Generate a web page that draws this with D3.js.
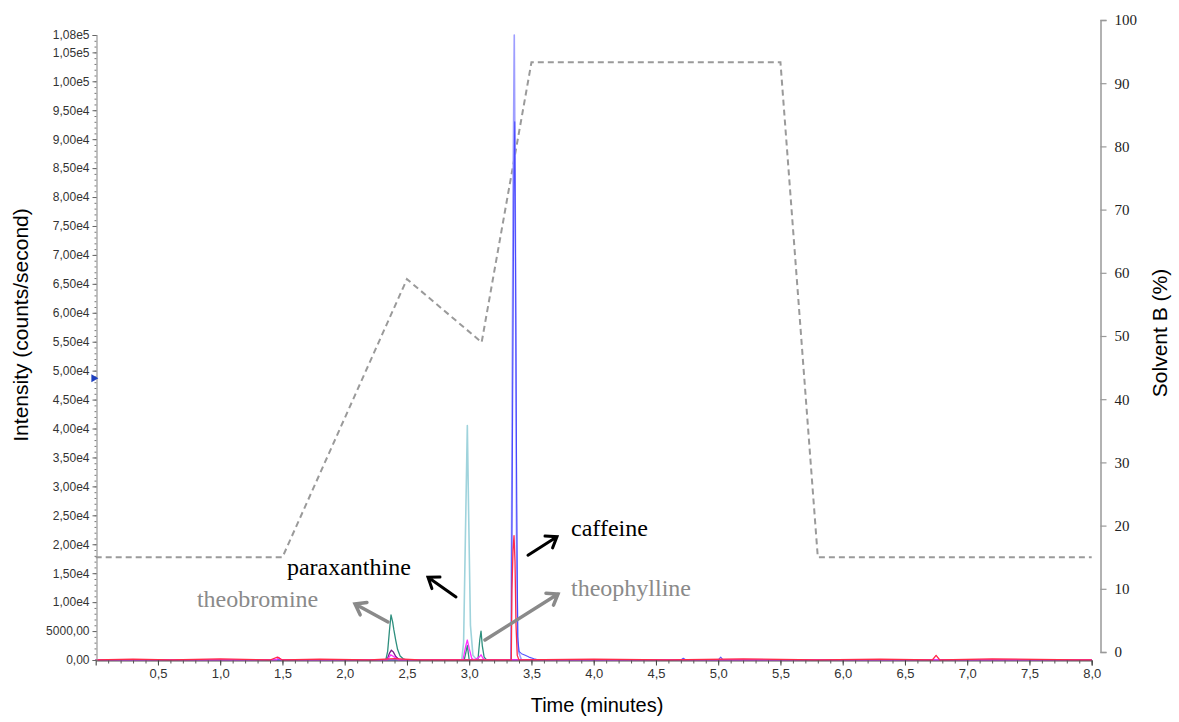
<!DOCTYPE html>
<html>
<head>
<meta charset="utf-8">
<script src="https://cdn.jsdelivr.net/npm/d3@7"></script>
<style>
  html, body { margin: 0; padding: 0; background: #fff; }
  svg { display: block; }
</style>
</head>
<body>
<svg id="chart" width="1179" height="722"></svg>
<script>
// ---------------- DATA ----------------
// Left axis (intensity) ticks
const leftTickValues = [0, 5000, 10000, 15000, 20000, 25000, 30000, 35000, 40000, 45000, 50000,
  55000, 60000, 65000, 70000, 75000, 80000, 85000, 90000, 95000, 100000, 105000, 108000];
const leftTickLabels = ["0,00", "5000,00", "1,00e4", "1,50e4", "2,00e4", "2,50e4", "3,00e4", "3,50e4",
  "4,00e4", "4,50e4", "5,00e4", "5,50e4", "6,00e4", "6,50e4", "7,00e4", "7,50e4", "8,00e4", "8,50e4",
  "9,00e4", "9,50e4", "1,00e5", "1,05e5", "1,08e5"];
// Bottom axis (time) ticks
const timeTickValues = [0.5, 1.0, 1.5, 2.0, 2.5, 3.0, 3.5, 4.0, 4.5, 5.0, 5.5, 6.0, 6.5, 7.0, 7.5, 8.0];
const timeTickLabels = ["0,5", "1,0", "1,5", "2,0", "2,5", "3,0", "3,5", "4,0", "4,5", "5,0", "5,5", "6,0", "6,5", "7,0", "7,5", "8,0"];
// Right axis (solvent B %) ticks
const solventTickValues = [0, 10, 20, 30, 40, 50, 60, 70, 80, 90, 100];

// Gradient profile (Solvent B %)
const gradientTime = [0, 1.5, 2.5, 3.1, 3.5, 5.5, 5.8, 8.0];
const gradientPct  = [15, 15, 59, 49, 93.3, 93.3, 15, 15];

// Chromatogram traces: [time (min), intensity (counts/s)]
const lightCyanTrace = [[0,0],[2.94,0],[2.955,3000],[2.97,22000],[2.985,40500],[2.995,26000],[3.01,6000],[3.03,800],[3.06,0],[8,0]];
const tealTrace = [[0,0],[2.33,0],[2.345,1500],[2.36,5200],[2.372,7800],[2.385,6600],[2.395,5200],[2.41,3400],[2.425,1800],[2.445,700],[2.47,200],[2.5,0],
  [2.96,0],[2.985,2500],[3.0,0],[3.07,0],[3.085,3500],[3.095,5000],[3.105,2500],[3.12,500],[3.14,0],[8,0]];
const purpleTrace = [[0,0],[2.34,0],[2.36,1200],[2.375,1700],[2.39,1400],[2.41,600],[2.44,0],[8,0]];
const magentaTrace = [[0,0],[1.45,0],[1.47,450],[1.49,0],[2.34,0],[2.37,900],[2.4,500],[2.43,0],
  [2.95,0],[2.97,2200],[2.985,3450],[3.0,2000],[3.02,300],[3.04,0],[3.08,500],[3.095,900],[3.11,300],[3.13,0],[8,0]];
const lightBlueTrace = [[0,0],[3.335,0],[3.342,30000],[3.352,80000],[3.362,108000],[3.372,70000],[3.38,20000],[3.39,3000],[3.4,1200],[3.42,0],[8,0]];
const blueTrace = [[0,0],[3.338,0],[3.348,40000],[3.358,80000],[3.366,93000],[3.374,60000],[3.382,27000],[3.39,4000],[3.40,1500],
  [3.42,1100],[3.45,800],[3.48,500],[3.52,200],[3.56,0],[4.7,0],[4.72,300],[4.74,0],[5.0,0],[5.02,500],[5.04,0],[8,0]];
const redTrace = [[0,0],[0.3,150],[0.6,0],[1.0,200],[1.4,0],[1.46,500],[1.5,0],[1.8,150],[2.2,0],[2.4,250],[2.6,0],
  [3.338,0],[3.343,12000],[3.352,19000],[3.36,21500],[3.368,17000],[3.376,6000],[3.386,800],[3.4,0],
  [4.0,150],[4.6,0],[5.2,200],[5.8,0],[6.3,150],[6.72,0],[6.75,800],[6.78,0],[7.2,200],[7.9,0],[8,0]];

// Annotations: label, colour, text anchor point and arrow (time, intensity)
const annotLabels = ["paraxanthine", "theobromine", "caffeine", "theophylline"];
const annotColors = ["#000000", "#8a8a8a", "#000000", "#8a8a8a"];
const annotTextPos = [[1.536, 14700], [0.813, 9160], [3.818, 21400], [3.818, 11060]];
const annotArrowFrom = [[2.894, 10900], [2.348, 6570], [3.472, 18100], [3.127, 3460]];
const annotArrowTo = [[2.669, 14300], [2.083, 9680], [3.705, 21300], [3.713, 11400]];

// ---------------- CHART ----------------
const svg = d3.select("#chart");
const x = d3.scaleLinear().domain([0, 8]).range([95.7, 1091.7]);
const yL = d3.scaleLinear().domain([0, 108000]).range([660, 35]);
const yR = d3.scaleLinear().domain([0, 100]).range([652, 20]);

const narrow = "'Liberation Sans Narrow', 'Liberation Sans', Arial, sans-serif";
const sans = "'Liberation Sans', Arial, sans-serif";
const serif = "'Liberation Serif', 'Times New Roman', serif";

// Gradient dashed line
const gLine = d3.line().x((d) => x(d[0])).y((d) => yR(d[1]));
svg.append("path")
  .datum(gradientTime.map((t, i) => [t, gradientPct[i]]))
  .attr("d", gLine)
  .attr("fill", "none")
  .attr("stroke", "#9a9a9a")
  .attr("stroke-width", 2)
  .attr("stroke-dasharray", "6,4");

// Chromatogram traces
const cLine = d3.line().x((d) => x(d[0])).y((d) => yL(d[1]));
const traces = [
  { data: lightCyanTrace, color: "#9fd3dc", w: 1.6, op: 1 },
  { data: tealTrace, color: "#2e8f7e", w: 1.3, op: 1 },
  { data: purpleTrace, color: "#7a1a8a", w: 1.3, op: 1 },
  { data: lightBlueTrace, color: "#9e9eff", w: 1.6, op: 1 },
  { data: blueTrace, color: "#3a3aff", w: 1.1, op: 0.85 },
  { data: magentaTrace, color: "#ff30ff", w: 1.3, op: 1 },
  { data: redTrace, color: "#ff2a4a", w: 1.3, op: 1 }
];
traces.forEach((tr) => {
  svg.append("path")
    .datum(tr.data)
    .attr("d", cLine)
    .attr("fill", "none")
    .attr("stroke", tr.color)
    .attr("stroke-width", tr.w)
    .attr("stroke-opacity", tr.op)
    .attr("stroke-linejoin", "round");
});

// Left axis: minor ticks
const leftMinor = svg.append("g").attr("transform", "translate(96.5,0)")
  .call(d3.axisLeft(yL).tickValues(d3.range(0, 108001, 1000)).tickSize(2).tickFormat(""));
leftMinor.select(".domain").remove();
leftMinor.selectAll("line").attr("stroke", "#777");
// Left axis: major ticks
const leftAx = svg.append("g").attr("transform", "translate(96.5,0)")
  .call(d3.axisLeft(yL).tickValues(leftTickValues).tickSize(4).tickPadding(3)
    .tickFormat((d, i) => leftTickLabels[i]));
leftAx.select(".domain").attr("stroke", "#999").attr("stroke-width", 1.2);
leftAx.selectAll("line").attr("stroke", "#666");
leftAx.selectAll("text").attr("font-family", narrow).attr("font-size", 12).attr("fill", "#333");

// Bottom axis: minor
const botMinor = svg.append("g").attr("transform", "translate(0,660.5)")
  .call(d3.axisBottom(x).tickValues(d3.range(1, 81).map((d) => d / 10)).tickSize(3).tickFormat(""));
botMinor.select(".domain").remove();
botMinor.selectAll("line").attr("stroke", "#555");
const botAx = svg.append("g").attr("transform", "translate(0,660.5)")
  .call(d3.axisBottom(x).tickValues(timeTickValues).tickSize(5).tickPadding(3)
    .tickFormat((d, i) => timeTickLabels[i]));
botAx.select(".domain").attr("stroke", "#555").attr("stroke-width", 1.2);
botAx.selectAll("line").attr("stroke", "#444");
botAx.selectAll("text").attr("font-family", narrow).attr("font-size", 13).attr("fill", "#333");

// Right axis
const rightAx = svg.append("g").attr("transform", "translate(1100.5,0)")
  .call(d3.axisRight(yR).tickValues(solventTickValues).tickSize(6).tickPadding(8));
rightAx.select(".domain").attr("stroke", "#999").attr("stroke-width", 1.5);
rightAx.selectAll("line").attr("stroke", "#999").attr("stroke-width", 1.2);
rightAx.selectAll("text").attr("font-family", serif).attr("font-size", 15).attr("fill", "#222");

// Small blue marker on left axis
svg.append("path")
  .attr("d", d3.symbol().type(d3.symbolTriangle).size(28)())
  .attr("transform", `translate(${x(0) - 2},${yL(48700)}) rotate(90)`)
  .attr("fill", "#1e3fbf");

// Axis titles
svg.append("text")
  .attr("transform", "translate(28,325) rotate(-90)")
  .attr("text-anchor", "middle")
  .attr("font-family", sans).attr("font-size", 21).attr("fill", "#000")
  .text("Intensity (counts/second)");
svg.append("text")
  .attr("transform", "translate(1167,333) rotate(-90)")
  .attr("text-anchor", "middle")
  .attr("font-family", sans).attr("font-size", 21).attr("fill", "#000")
  .text("Solvent B (%)");
svg.append("text")
  .attr("x", 597).attr("y", 712)
  .attr("text-anchor", "middle")
  .attr("font-family", sans).attr("font-size", 20).attr("fill", "#000")
  .text("Time (minutes)");

// Annotations
annotLabels.forEach((lab, i) => {
  svg.append("text")
    .attr("x", x(annotTextPos[i][0])).attr("y", yL(annotTextPos[i][1]))
    .attr("font-family", serif).attr("font-size", 24).attr("fill", annotColors[i])
    .text(lab);
  const x1 = x(annotArrowFrom[i][0]), y1 = yL(annotArrowFrom[i][1]);
  const x2 = x(annotArrowTo[i][0]), y2 = yL(annotArrowTo[i][1]);
  const ang = Math.atan2(y2 - y1, x2 - x1);
  const hl = 12, ha = Math.PI / 5;
  const p1 = [x2 - hl * Math.cos(ang - ha), y2 - hl * Math.sin(ang - ha)];
  const p2 = [x2 - hl * Math.cos(ang + ha), y2 - hl * Math.sin(ang + ha)];
  const w = annotColors[i] === "#000000" ? 3 : 3.5;
  svg.append("path")
    .attr("d", `M${x1},${y1}L${x2},${y2}M${p1[0]},${p1[1]}L${x2},${y2}L${p2[0]},${p2[1]}`)
    .attr("fill", "none")
    .attr("stroke", annotColors[i])
    .attr("stroke-width", w)
    .attr("stroke-linecap", "round")
    .attr("stroke-linejoin", "miter");
});
</script>
</body>
</html>
